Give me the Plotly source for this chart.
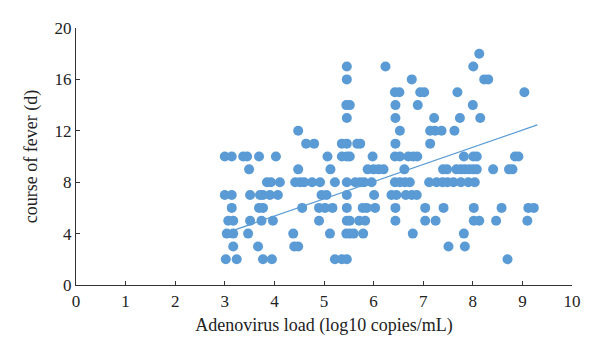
import numpy as np
import plotly.graph_objects as go

# Adenovirus load (log10 copies/mL) grouped by course of fever (days)
fever_days = [18, 17, 16, 15, 14, 13, 12, 11, 10, 9, 8, 7, 6, 5, 4, 3, 2]
load_d18 = [8.13]
load_d17 = [5.46, 6.24, 8.01]
load_d16 = [5.46, 6.77, 8.23, 8.31]
load_d15 = [6.43, 6.52, 6.94, 7.02, 7.69, 9.04]
load_d14 = [5.45, 5.52, 6.44, 6.89, 8.0]
load_d13 = [5.46, 6.44, 7.22, 7.74, 8.15]
load_d12 = [4.48, 6.53, 7.14, 7.24, 7.37, 7.63]
load_d11 = [4.64, 4.8, 5.36, 5.46, 5.67, 5.73, 6.44, 7.14]
load_d10 = [3.0, 3.14, 3.37, 3.45, 3.69, 4.03, 5.07, 5.36, 5.46, 5.52, 5.98,
            6.43, 6.53, 6.7, 6.8, 6.88, 7.82, 8.01, 8.08, 8.85, 8.92]
load_d9 = [3.49, 4.48, 5.13, 5.88, 6.0, 6.1, 6.2, 6.62, 7.4, 7.48, 7.67,
           7.76, 7.84, 7.93, 8.01, 8.08, 8.41, 8.73, 8.8]
load_d8 = [3.85, 3.93, 4.11, 4.42, 4.52, 4.6, 4.76, 4.92, 5.22, 5.46, 5.63,
           5.73, 5.81, 5.96, 6.43, 6.53, 6.63, 6.73, 7.12, 7.27, 7.39, 7.49,
           7.61, 7.76, 7.91, 8.04]
load_d7 = [3.0, 3.14, 3.51, 3.71, 3.77, 3.91, 4.07, 4.95, 5.05, 5.46, 6.01,
           6.36, 6.46, 6.65, 6.77, 6.87]
load_d6 = [3.14, 3.69, 3.77, 4.56, 4.9, 5.02, 5.17, 5.46, 5.78, 5.86, 6.03,
           6.44, 7.04, 7.41, 8.02, 8.58, 9.12, 9.23]
load_d5 = [3.07, 3.17, 3.51, 3.74, 3.97, 4.9, 5.46, 5.52, 5.71, 5.83, 6.44,
           7.04, 7.25, 8.02, 8.13, 8.47, 9.1]
load_d4 = [3.04, 3.17, 3.47, 4.38, 5.12, 5.45, 5.52, 5.6, 5.79, 6.79, 7.82]
load_d3 = [3.17, 3.67, 4.4, 4.48, 7.51, 7.84]
load_d2 = [3.02, 3.24, 3.77, 3.95, 5.22, 5.36, 5.46, 8.7]

groups = [load_d18, load_d17, load_d16, load_d15, load_d14, load_d13, load_d12,
          load_d11, load_d10, load_d9, load_d8, load_d7, load_d6, load_d5,
          load_d4, load_d3, load_d2]

# Linear trendline as drawn in the figure (slope / intercept)
trend_slope = 1.34
trend_intercept = 0.0
trend_x_end = 9.3

x_ticks = list(range(0, 11))
y_ticks = [0, 4, 8, 12, 16, 20]

xs, ys = [], []
for d, g in zip(fever_days, groups):
    xs.extend(g)
    ys.extend([d] * len(g))
xs = np.array(xs)
ys = np.array(ys)

tx = np.array([xs.min(), trend_x_end])
ty = trend_slope * tx + trend_intercept

blue = "#5B9BD5"
fig = go.Figure()
fig.add_trace(go.Scatter(x=tx, y=ty, mode="lines",
                         line=dict(color=blue, width=1.2), showlegend=False))
fig.add_trace(go.Scatter(x=xs, y=ys, mode="markers",
                         marker=dict(color=blue, size=10, line=dict(width=0)),
                         showlegend=False))

font = dict(family="Liberation Serif, Times New Roman, serif", size=17, color="#222")
title_font = dict(family="Liberation Serif, Times New Roman, serif", size=18, color="#222")
fig.update_layout(
    width=592, height=356,
    margin=dict(l=68, r=28, t=20, b=79),
    paper_bgcolor="white", plot_bgcolor="white",
    font=font,
)
fig.update_xaxes(range=[0, 10], tickvals=x_ticks, showgrid=False, zeroline=False,
                 showline=True, linecolor="#333", linewidth=1.2,
                 ticks="inside", ticklen=4, tickcolor="#333", automargin=False,
                 title=dict(text="Adenovirus load (log10 copies/mL)", standoff=8,
                            font=title_font),
                 tickfont=font)
fig.update_yaxes(range=[0, 20], tickvals=y_ticks, showgrid=False, zeroline=False,
                 showline=True, linecolor="#333", linewidth=1.2,
                 ticks="inside", ticklen=4, tickcolor="#333", automargin=False,
                 title=dict(text="course of fever (d)", standoff=12,
                            font=title_font),
                 tickfont=font)
fig.write_html("out.html")
